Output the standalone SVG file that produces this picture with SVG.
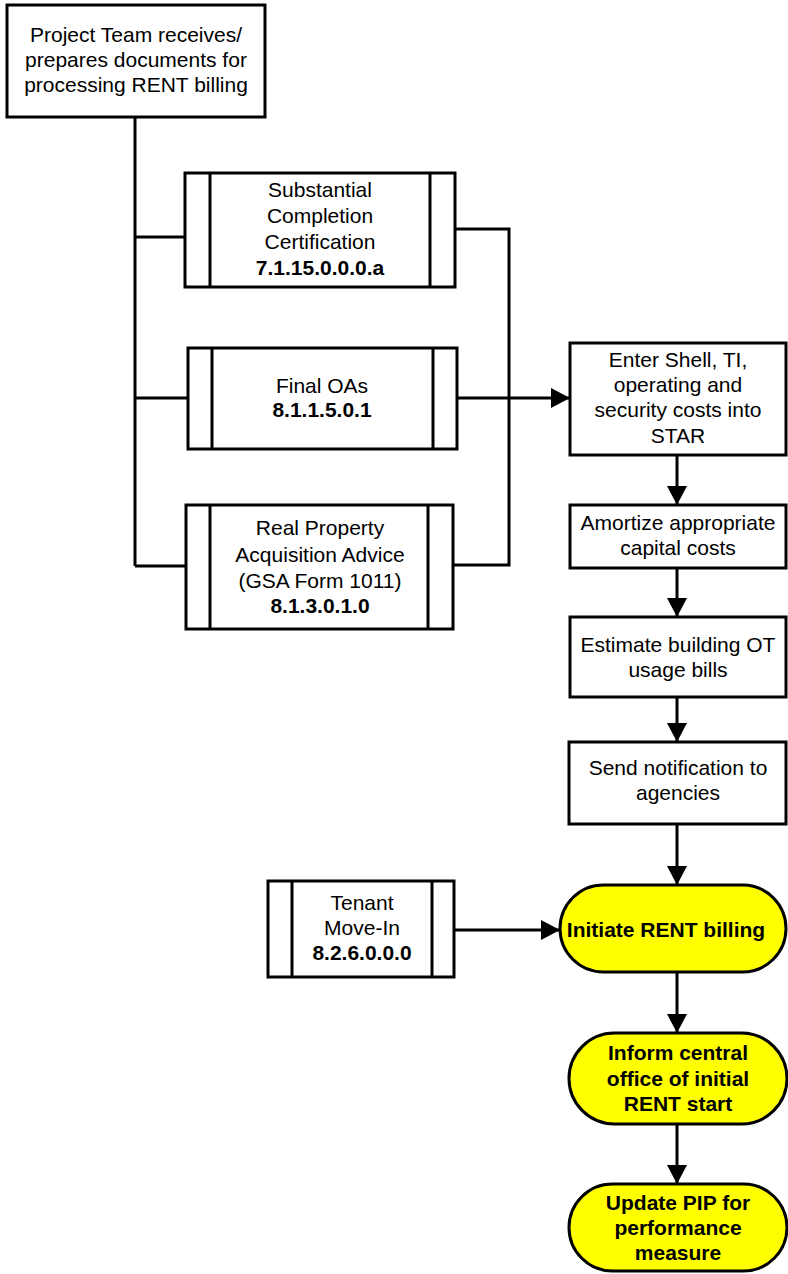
<svg xmlns="http://www.w3.org/2000/svg" width="788" height="1274" viewBox="0 0 788 1274">
<style>
.b{fill:#fff;stroke:#000;stroke-width:3}
.y{fill:#ffff00;stroke:#000;stroke-width:3}
.l{fill:none;stroke:#000;stroke-width:3}
text{font-family:"Liberation Sans",Arial,sans-serif;font-size:21px;fill:#000;text-anchor:middle}
.bd{font-weight:bold}
</style>
<defs>
<marker id="ah" markerUnits="userSpaceOnUse" markerWidth="19" markerHeight="20" refX="19" refY="10" orient="auto">
<path d="M0,0 L19,10 L0,20 z" fill="#000"/>
</marker>
</defs>
<g id="connectors">
<path class="l" d="M135,117 V566"/>
<path class="l" d="M135,237 H185"/>
<path class="l" d="M135,398 H188"/>
<path class="l" d="M135,566 H186"/>
<path class="l" d="M455,229 H509 V565 H453"/>
<path class="l" d="M457,398 H570" marker-end="url(#ah)"/>
<path class="l" d="M677,455 V505" marker-end="url(#ah)"/>
<path class="l" d="M677,568 V617" marker-end="url(#ah)"/>
<path class="l" d="M677,697 V742" marker-end="url(#ah)"/>
<path class="l" d="M677,824 V885" marker-end="url(#ah)"/>
<path class="l" d="M677,972 V1033" marker-end="url(#ah)"/>
<path class="l" d="M677,1124 V1184" marker-end="url(#ah)"/>
<path class="l" d="M454,930 H560" marker-end="url(#ah)"/>
</g>
<g id="project-team">
<rect class="b" x="7" y="5" width="258" height="112"/>
<text x="136" y="42">Project Team receives/</text>
<text x="136" y="67">prepares documents for</text>
<text x="136" y="92">processing RENT billing</text>
</g>
<g id="substantial">
<rect class="b" x="185" y="173" width="270" height="114"/>
<path class="l" d="M210,173 V287 M430,173 V287"/>
<text x="320" y="197">Substantial</text>
<text x="320" y="223">Completion</text>
<text x="320" y="249">Certification</text>
<text x="320" y="275" class="bd">7.1.15.0.0.0.a</text>
</g>
<g id="final-oas">
<rect class="b" x="188" y="348" width="269" height="101"/>
<path class="l" d="M212,348 V449 M433,348 V449"/>
<text x="322" y="393">Final OAs</text>
<text x="322" y="417" class="bd">8.1.1.5.0.1</text>
</g>
<g id="real-property">
<rect class="b" x="186" y="505" width="267" height="124"/>
<path class="l" d="M210,505 V629 M428,505 V629"/>
<text x="320" y="535">Real Property</text>
<text x="320" y="562">Acquisition Advice</text>
<text x="320" y="588">(GSA Form 1011)</text>
<text x="320" y="613" class="bd">8.1.3.0.1.0</text>
</g>
<g id="enter-shell">
<rect class="b" x="570" y="343" width="216" height="112"/>
<text x="678" y="367">Enter Shell, TI,</text>
<text x="678" y="392">operating and</text>
<text x="678" y="417">security costs into</text>
<text x="678" y="443">STAR</text>
</g>
<g id="amortize">
<rect class="b" x="570" y="505" width="216" height="63"/>
<text x="678" y="530">Amortize appropriate</text>
<text x="678" y="555">capital costs</text>
</g>
<g id="estimate">
<rect class="b" x="570" y="617" width="216" height="80"/>
<text x="678" y="652">Estimate building OT</text>
<text x="678" y="677">usage bills</text>
</g>
<g id="send-notification">
<rect class="b" x="569" y="742" width="217" height="82"/>
<text x="678" y="775">Send notification to</text>
<text x="678" y="800">agencies</text>
</g>
<g id="tenant">
<rect class="b" x="268" y="881" width="186" height="96"/>
<path class="l" d="M292,881 V977 M432,881 V977"/>
<text x="362" y="910">Tenant</text>
<text x="362" y="935">Move-In</text>
<text x="362" y="960" class="bd">8.2.6.0.0.0</text>
</g>
<g id="initiate">
<rect class="y" x="560" y="885" width="226" height="87" rx="43.5" ry="43.5"/>
<text x="666" y="937" class="bd">Initiate RENT billing</text>
</g>
<g id="inform">
<rect class="y" x="569" y="1033" width="218" height="91" rx="45.5" ry="45.5"/>
<text x="678" y="1060" class="bd">Inform central</text>
<text x="678" y="1086" class="bd">office of initial</text>
<text x="678" y="1111" class="bd">RENT start</text>
</g>
<g id="update">
<rect class="y" x="569" y="1184" width="218" height="87" rx="43.5" ry="43.5"/>
<text x="678" y="1210" class="bd">Update PIP for</text>
<text x="678" y="1235" class="bd">performance</text>
<text x="678" y="1260" class="bd">measure</text>
</g>
</svg>
